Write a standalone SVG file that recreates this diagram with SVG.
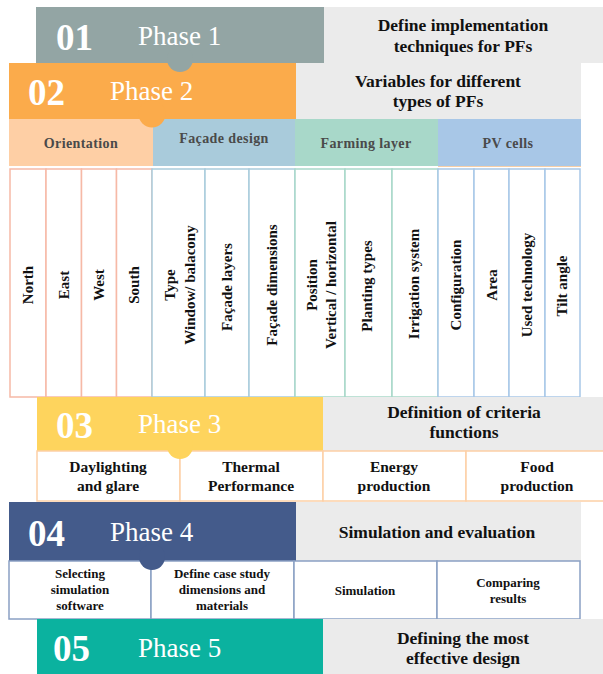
<svg xmlns="http://www.w3.org/2000/svg" width="603" height="674" viewBox="0 0 603 674">
  <style>
    text { font-family: "Liberation Serif", Tinos, "DejaVu Serif", serif; }
    .num { font-weight: bold; font-size: 37px; fill: #ffffff; }
    .ph { font-size: 27px; fill: #ffffff; }
    .desc { font-weight: bold; font-size: 17.5px; fill: #111111; text-anchor: middle; }
    .cat { font-weight: bold; font-size: 14px; fill: #4a4a4a; text-anchor: middle; letter-spacing: 0.4px; }
    .vt { font-weight: bold; font-size: 15px; fill: #111111; text-anchor: middle; }
    .c3 { font-weight: bold; font-size: 15.5px; fill: #111111; text-anchor: middle; }
    .c4 { font-weight: bold; font-size: 13px; fill: #111111; text-anchor: middle; }
    .side { fill: #ebebeb; }
    .col-o { fill: #ffffff; stroke: #f6b9a6; stroke-width: 1.5; }
    .col-f { fill: #ffffff; stroke: #a9cbdb; stroke-width: 1.5; }
    .col-g { fill: #ffffff; stroke: #a8d8c9; stroke-width: 1.5; }
    .col-p { fill: #ffffff; stroke: #a8c7e7; stroke-width: 1.5; }
    .cell3 { fill: #ffffff; stroke: #fdd0a6; stroke-width: 1.5; }
    .cell4 { fill: #ffffff; stroke: #8aa0c4; stroke-width: 1.5; }
  </style>

  <!-- Phase 1 -->
  <g id="phase1">
    <rect class="side" x="324" y="7" width="279" height="56"/>
    <rect x="36" y="7" width="288" height="56" fill="#93a5a4"/>
    <text class="num" x="56" y="50">01</text>
    <text class="ph" x="138" y="45">Phase 1</text>
    <text class="desc" x="463" y="31">Define implementation</text>
    <text class="desc" x="463" y="52">techniques for PFs</text>
  </g>

  <!-- Phase 2 -->
  <g id="phase2">
    <rect class="side" x="296" y="63" width="285" height="56"/>
    <rect x="9" y="63" width="287" height="56" fill="#fbab4b"/>
    <circle cx="180" cy="59" r="13" fill="#93a5a4"/>
    <text class="num" x="28" y="105">02</text>
    <text class="ph" x="110" y="100">Phase 2</text>
    <text class="desc" x="438" y="87">Variables for different</text>
    <text class="desc" x="438" y="107">types of PFs</text>
  </g>

  <!-- Variable categories -->
  <g id="categories">
    <rect x="9" y="119" width="144" height="47" fill="#fecfa5"/>
    <rect x="153" y="119" width="142" height="47" fill="#a9cbdb"/>
    <rect x="295" y="119" width="143" height="47" fill="#a8d8c9"/>
    <rect x="438" y="119" width="143" height="47" fill="#a8c7e7"/>
    <line x1="438" y1="166.5" x2="581" y2="166.5" stroke="#f6cfa8" stroke-width="1"/>
    <circle cx="152" cy="114" r="13.5" fill="#fbab4b"/>
    <text class="cat" x="81" y="148">Orientation</text>
    <text class="cat" x="224" y="143">Façade design</text>
    <text class="cat" x="366" y="148">Farming layer</text>
    <text class="cat" x="508" y="148">PV cells</text>
  </g>

  <!-- Variable columns -->
  <g id="orientation-columns">
    <rect class="col-o" x="10" y="169" width="36" height="228"/>
    <rect class="col-o" x="46" y="169" width="35.5" height="228"/>
    <rect class="col-o" x="81.5" y="169" width="35" height="228"/>
    <rect class="col-o" x="116.5" y="169" width="35.5" height="228"/>
    <text class="vt" transform="translate(33,285) rotate(-90)">North</text>
    <text class="vt" transform="translate(69,285) rotate(-90)">East</text>
    <text class="vt" transform="translate(104,285) rotate(-90)">West</text>
    <text class="vt" transform="translate(139,285) rotate(-90)">South</text>
  </g>
  <g id="facade-columns">
    <rect class="col-f" x="152" y="169" width="53" height="228"/>
    <rect class="col-f" x="205" y="169" width="44" height="228"/>
    <rect class="col-f" x="249" y="169" width="46" height="228"/>
    <text class="vt" transform="translate(175,285) rotate(-90)">Type</text>
    <text class="vt" transform="translate(195,285) rotate(-90)">Window/ balacony</text>
    <text class="vt" transform="translate(232,287) rotate(-90)">Façade layers</text>
    <text class="vt" transform="translate(277,285) rotate(-90)">Façade dimensions</text>
  </g>
  <g id="farming-columns">
    <rect class="col-g" x="295" y="169" width="50" height="228"/>
    <rect class="col-g" x="345" y="169" width="47" height="228"/>
    <rect class="col-g" x="392" y="169" width="46" height="228"/>
    <text class="vt" transform="translate(317,285) rotate(-90)">Position</text>
    <text class="vt" transform="translate(336,285) rotate(-90)">Vertical / horizontal</text>
    <text class="vt" transform="translate(372,286) rotate(-90)">Planting types</text>
    <text class="vt" transform="translate(419,284) rotate(-90)">Irrigation system</text>
  </g>
  <g id="pv-columns">
    <rect class="col-p" x="438" y="169" width="36" height="228"/>
    <rect class="col-p" x="474" y="169" width="35" height="228"/>
    <rect class="col-p" x="509" y="169" width="36" height="228"/>
    <rect class="col-p" x="545" y="169" width="35" height="228"/>
    <text class="vt" transform="translate(461,285) rotate(-90)">Configuration</text>
    <text class="vt" transform="translate(497,285) rotate(-90)">Area</text>
    <text class="vt" transform="translate(532,285) rotate(-90)">Used technology</text>
    <text class="vt" transform="translate(567,286) rotate(-90)">Tilt angle</text>
  </g>

  <!-- Phase 3 -->
  <g id="phase3">
    <rect class="side" x="323" y="397" width="280" height="54"/>
    <rect x="37" y="397" width="286" height="54" fill="#fed45d"/>
    <text class="num" x="56" y="438">03</text>
    <text class="ph" x="138" y="433">Phase 3</text>
    <text class="desc" x="464" y="418">Definition of criteria</text>
    <text class="desc" x="464" y="438">functions</text>
  </g>
  <g id="phase3-criteria">
    <rect class="cell3" x="37" y="451" width="143" height="50"/>
    <rect class="cell3" x="180" y="451" width="143" height="50"/>
    <rect class="cell3" x="323" y="451" width="143" height="50"/>
    <rect class="cell3" x="466" y="451" width="140" height="50"/>
    <circle cx="180" cy="446" r="13" fill="#fed45d"/>
    <text class="c3" x="108" y="472">Daylighting</text>
    <text class="c3" x="108" y="491">and glare</text>
    <text class="c3" x="251" y="472">Thermal</text>
    <text class="c3" x="251" y="491">Performance</text>
    <text class="c3" x="394" y="472">Energy</text>
    <text class="c3" x="394" y="491">production</text>
    <text class="c3" x="537" y="472">Food</text>
    <text class="c3" x="537" y="491">production</text>
  </g>

  <!-- Phase 4 -->
  <g id="phase4">
    <rect class="side" x="296" y="502" width="285" height="59"/>
    <rect x="9" y="502" width="287" height="59" fill="#445b8b"/>
    <text class="num" x="28" y="546">04</text>
    <text class="ph" x="110" y="541">Phase 4</text>
    <text class="desc" x="437" y="538">Simulation and evaluation</text>
  </g>
  <g id="phase4-steps">
    <rect class="cell4" x="9" y="561" width="142" height="58"/>
    <rect class="cell4" x="151" y="561" width="143" height="58"/>
    <rect class="cell4" x="294" y="561" width="143" height="58"/>
    <rect class="cell4" x="437" y="561" width="143" height="58"/>
    <circle cx="152" cy="557" r="13" fill="#445b8b"/>
    <text class="c4" x="80" y="578">Selecting</text>
    <text class="c4" x="80" y="594">simulation</text>
    <text class="c4" x="80" y="610">software</text>
    <text class="c4" x="222" y="578">Define case study</text>
    <text class="c4" x="222" y="594">dimensions and</text>
    <text class="c4" x="222" y="610">materials</text>
    <text class="c4" x="365" y="595">Simulation</text>
    <text class="c4" x="508" y="587">Comparing</text>
    <text class="c4" x="508" y="603">results</text>
  </g>

  <!-- Phase 5 -->
  <g id="phase5">
    <rect class="side" x="323" y="619" width="280" height="55"/>
    <rect x="37" y="619" width="286" height="55" fill="#0bb29f"/>
    <text class="num" x="53" y="661">05</text>
    <text class="ph" x="138" y="657">Phase 5</text>
    <text class="desc" x="463" y="644">Defining the most</text>
    <text class="desc" x="463" y="664">effective design</text>
  </g>

  <!-- no connectors: the phases are stacked bands -->
  <g id="connectors"/>
</svg>
